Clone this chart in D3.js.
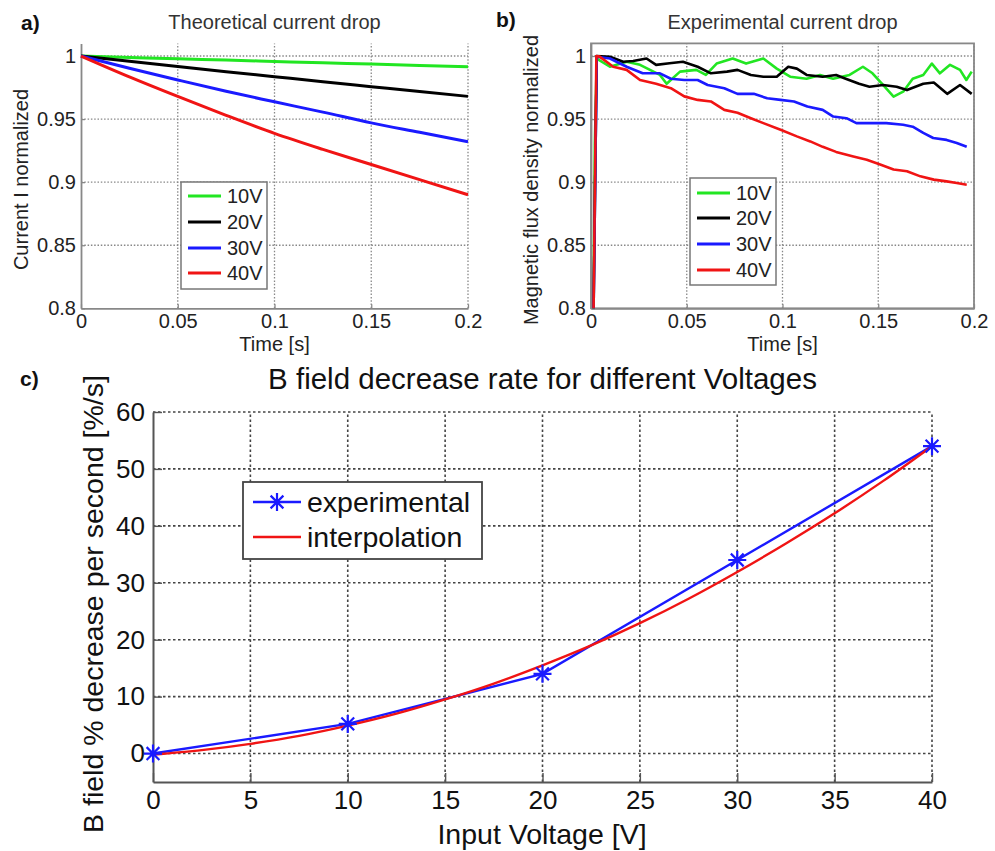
<!DOCTYPE html>
<html>
<head>
<meta charset="utf-8">
<script src="https://cdn.jsdelivr.net/npm/d3@7"></script>
<style>
  body { margin: 0; background: #fff; }
  svg { display: block; }
  text { font-family: "Liberation Sans", Arial, Helvetica, sans-serif; }
</style>
</head>
<body>
<svg id="fig" width="995" height="851"></svg>
<script>
// ---- Series names and colours shared by panels a) and b)
const seriesNames = ["10V", "20V", "30V", "40V"];
const seriesColors = ["#22e622", "#000000", "#1a1aff", "#f01414"];

// ---- a) theoretical normalized current vs time
const theoryTime = [0, 0.025, 0.05, 0.075, 0.1, 0.125, 0.15, 0.175, 0.2];
const theory10V = [1, 0.9989, 0.9978, 0.9968, 0.9957, 0.9946, 0.9936, 0.9925, 0.9915];
const theory20V = [1, 0.9958, 0.9917, 0.9876, 0.9836, 0.9796, 0.9757, 0.9718, 0.968];
const theory30V = [1, 0.9903, 0.981, 0.972, 0.9637, 0.9555, 0.947, 0.9395, 0.932];
const theory40V = [1, 0.9835, 0.968, 0.953, 0.9387, 0.926, 0.914, 0.902, 0.890];

// ---- b) measured normalized flux density, [time s, value]
const measured10V = [[0.0012,0.78],[0.002,0.93],[0.003,0.998],[0.0099,0.9915],[0.0186,0.9955],[0.0256,0.993],[0.036,0.985],[0.0395,0.978],[0.0465,0.9876],[0.055,0.989],[0.060,0.985],[0.0656,0.994],[0.074,0.998],[0.081,0.994],[0.090,0.998],[0.097,0.990],[0.104,0.9836],[0.1126,0.982],[0.1196,0.985],[0.1264,0.982],[0.135,0.985],[0.142,0.9915],[0.147,0.9863],[0.1526,0.977],[0.158,0.9678],[0.163,0.9717],[0.168,0.982],[0.1735,0.985],[0.178,0.994],[0.1822,0.9863],[0.1875,0.993],[0.1927,0.989],[0.196,0.981],[0.1988,0.9876]];
const measured20V = [[0.0012,0.78],[0.003,1.0],[0.0099,0.9994],[0.0168,0.9955],[0.022,0.996],[0.029,0.998],[0.034,0.993],[0.041,0.9942],[0.048,0.9955],[0.0557,0.9915],[0.0626,0.9863],[0.071,0.9876],[0.0765,0.989],[0.0835,0.985],[0.090,0.9836],[0.097,0.9836],[0.103,0.9915],[0.1075,0.990],[0.1126,0.985],[0.121,0.9836],[0.128,0.985],[0.133,0.982],[0.140,0.978],[0.1454,0.9757],[0.1525,0.977],[0.1596,0.9757],[0.165,0.973],[0.1735,0.978],[0.179,0.979],[0.186,0.970],[0.1927,0.977],[0.1988,0.970]];
const measured30V = [[0.0012,0.78],[0.003,0.9994],[0.0099,0.998],[0.0186,0.9915],[0.027,0.9863],[0.036,0.9863],[0.0417,0.982],[0.0487,0.981],[0.0557,0.981],[0.0609,0.977],[0.0696,0.9745],[0.0765,0.970],[0.085,0.970],[0.092,0.9665],[0.099,0.9652],[0.106,0.964],[0.113,0.960],[0.121,0.9573],[0.1265,0.952],[0.1334,0.9507],[0.1386,0.9468],[0.1455,0.9468],[0.1542,0.9468],[0.163,0.9455],[0.168,0.944],[0.1735,0.939],[0.1787,0.935],[0.1857,0.9335],[0.191,0.931],[0.1962,0.928]];
const measured40V = [[0.0012,0.78],[0.0028,1.0],[0.0045,0.9995],[0.0116,0.9915],[0.0186,0.989],[0.0256,0.981],[0.034,0.978],[0.0417,0.9745],[0.0487,0.968],[0.0557,0.9652],[0.0626,0.964],[0.0696,0.9573],[0.0765,0.955],[0.0835,0.9507],[0.090,0.9468],[0.099,0.9415],[0.1075,0.9363],[0.1145,0.9323],[0.121,0.928],[0.128,0.924],[0.137,0.9204],[0.144,0.9178],[0.151,0.914],[0.158,0.910],[0.165,0.9086],[0.172,0.9046],[0.179,0.902],[0.1857,0.9006],[0.191,0.8993],[0.1962,0.898]];

// ---- c) B field decrease rate vs input voltage
const voltages = [0, 10, 20, 30, 40];
const rateMeasured = [0, 5.2, 14, 34, 54];
const interpVoltages = [0, 2.5, 5, 7.5, 10, 12.5, 15, 17.5, 20, 22.5, 25, 27.5, 30, 32.5, 35, 37.5, 40];
const rateInterp = [-0.2, 0.6, 1.7, 3.1, 4.9, 7.0, 9.5, 12.3, 15.5, 19.0, 22.9, 27.2, 31.9, 36.9, 42.2, 47.9, 54.0];

// ---- tick values
const timeTicks = [0, 0.05, 0.1, 0.15, 0.2];
const normTicks = [0.8, 0.85, 0.9, 0.95, 1];
const voltageTicks = [0, 5, 10, 15, 20, 25, 30, 35, 40];
const rateTicks = [0, 10, 20, 30, 40, 50, 60];

const svg = d3.select("#fig");
const plainNum = d => String(+d.toFixed(4));

// Draws dotted grid, axes and tick labels for one axes box
function frame(g, x, y, o) {
  const [x0, x1] = x.range();
  const [yb, yt] = y.range();
  const grid = g.append("g").attr("class", "grid")
    .attr("stroke", o.gridColor).attr("stroke-width", o.gridWidth)
    .attr("stroke-dasharray", o.gridDash);
  grid.selectAll("line.v").data(o.xTicks.filter(d => d !== x.domain()[0]))
    .join("line").attr("class", "v")
    .attr("x1", d => x(d)).attr("x2", d => x(d)).attr("y1", yb).attr("y2", yt);
  grid.selectAll("line.h").data(o.yTicks.filter(d => d !== y.domain()[0]))
    .join("line").attr("class", "h")
    .attr("x1", x0).attr("x2", x1).attr("y1", d => y(d)).attr("y2", d => y(d));

  if (o.box) {
    g.append("rect").attr("x", x0).attr("y", yt).attr("width", x1 - x0).attr("height", yb - yt)
      .attr("fill", "none").attr("stroke", o.axisColor).attr("stroke-width", o.axisWidth);
  }
  const xa = g.append("g").attr("transform", `translate(0,${yb})`)
    .call(d3.axisBottom(x).tickValues(o.xTicks).tickFormat(o.fmt)
      .tickSizeInner(-o.tick).tickSizeOuter(0).tickPadding(o.xPad));
  const ya = g.append("g").attr("transform", `translate(${x0},0)`)
    .call(d3.axisLeft(y).tickValues(o.yTicks).tickFormat(o.fmt)
      .tickSizeInner(-o.tick).tickSizeOuter(0).tickPadding(o.yPad));
  [xa, ya].forEach(a => {
    a.select(".domain").attr("stroke", o.axisColor).attr("stroke-width", o.axisWidth);
    a.selectAll(".tick line").attr("stroke", o.axisColor).attr("stroke-width", o.axisWidth * 0.7);
    a.selectAll(".tick text").attr("font-size", o.fontSize).attr("fill", o.textColor)
      .attr("font-family", '"Liberation Sans", Arial, sans-serif');
  });
}

function label(txt, x, y, size, opts = {}) {
  const t = svg.append("text").attr("x", x).attr("y", y).attr("font-size", size)
    .attr("fill", opts.fill || "#222").attr("text-anchor", opts.anchor || "middle")
    .attr("font-weight", opts.weight || "normal").text(txt);
  if (opts.rotate) t.attr("transform", `rotate(-90,${x},${y})`);
  return t;
}

function smallLegend(lx, ly, w, h, rowY) {
  const g = svg.append("g");
  g.append("rect").attr("x", lx).attr("y", ly).attr("width", w).attr("height", h)
    .attr("fill", "#fff").attr("stroke", "#777").attr("stroke-width", 1.5);
  seriesNames.forEach((n, i) => {
    g.append("line").attr("x1", lx + 7).attr("x2", lx + 40)
      .attr("y1", rowY[i]).attr("y2", rowY[i])
      .attr("stroke", seriesColors[i]).attr("stroke-width", 3);
    g.append("text").attr("x", lx + 46).attr("y", rowY[i]).attr("dy", "0.36em")
      .attr("font-size", 20).attr("fill", "#222").text(n);
  });
}

const smallOpts = {
  xTicks: timeTicks, yTicks: normTicks, fmt: plainNum,
  gridColor: "#888", gridWidth: 1.3, gridDash: "1.5,1.8",
  axisColor: "#888", axisWidth: 1.8, tick: 4, xPad: 6, yPad: 5,
  fontSize: 20, textColor: "#222"
};

// ================= a)
{
  const x = d3.scaleLinear().domain([0, 0.2]).range([81, 468]);
  const y = d3.scaleLinear().domain([0.8, 1.01]).range([308.3, 43.4]);
  const g = svg.append("g");
  frame(g, x, y, Object.assign({}, smallOpts, { box: false }));
  const line = d3.line().x((d, i) => x(theoryTime[i])).y(d => y(d)).curve(d3.curveMonotoneX);
  [theory10V, theory20V, theory30V, theory40V].forEach((s, i) => {
    g.append("path").datum(s).attr("d", line).attr("fill", "none")
      .attr("stroke", seriesColors[i]).attr("stroke-width", 3);
  });
  smallLegend(181, 182, 86, 107, [196, 222, 248, 273]);
  label("Theoretical current drop", 274.5, 29, 20, { fill: "#333" });
  label("Current I normalized", 28, 179.5, 20, { rotate: true });
  label("Time [s]", 274.5, 351, 20);
  label("a)", 21, 30, 21, { anchor: "start", weight: "bold", fill: "#111" });
}

// ================= b)
{
  const x = d3.scaleLinear().domain([0, 0.2]).range([591, 974]);
  const y = d3.scaleLinear().domain([0.8, 1.01]).range([308.3, 43.4]);
  const g = svg.append("g");
  svg.append("defs").append("clipPath").attr("id", "clipB")
    .append("rect").attr("x", 591).attr("y", 43.4).attr("width", 383).attr("height", 264.9);
  frame(g, x, y, Object.assign({}, smallOpts, { box: true }));
  const line = d3.line().x(d => x(d[0])).y(d => y(d[1]));
  const lines = g.append("g").attr("clip-path", "url(#clipB)");
  [measured10V, measured20V, measured30V, measured40V].forEach((s, i) => {
    lines.append("path").datum(s).attr("d", line).attr("fill", "none")
      .attr("stroke", seriesColors[i]).attr("stroke-width", 2.6)
      .attr("stroke-linejoin", "round");
  });
  smallLegend(690, 178, 86, 107, [193, 218, 244, 270]);
  label("Experimental current drop", 782.5, 29, 20, { fill: "#333" });
  label("Magnetic flux density normalized", 538, 180, 20, { rotate: true });
  label("Time [s]", 782.5, 351, 20);
  label("b)", 496, 27, 21, { anchor: "start", weight: "bold", fill: "#111" });
}

// ================= c)
{
  const x = d3.scaleLinear().domain([0, 40]).range([153, 932]);
  const y = d3.scaleLinear().domain([-5, 60]).range([782, 412]);
  const g = svg.append("g");
  frame(g, x, y, {
    xTicks: voltageTicks, yTicks: rateTicks, fmt: d3.format("d"), box: false,
    gridColor: "#444", gridWidth: 1.6, gridDash: "2.5,2.5",
    axisColor: "#555", axisWidth: 2, tick: 9, xPad: 9, yPad: 8,
    fontSize: 26, textColor: "#111"
  });
  const lineM = d3.line().x((d, i) => x(voltages[i])).y(d => y(d));
  const lineI = d3.line().x((d, i) => x(interpVoltages[i])).y(d => y(d)).curve(d3.curveMonotoneX);
  g.append("path").datum(rateMeasured).attr("d", lineM).attr("fill", "none")
    .attr("stroke", "#1a1aff").attr("stroke-width", 2.4);
  g.append("path").datum(rateInterp).attr("d", lineI).attr("fill", "none")
    .attr("stroke", "#f01414").attr("stroke-width", 2.4);
  const star = "M-9,0H9M0,-9V9M-6.4,-6.4L6.4,6.4M-6.4,6.4L6.4,-6.4";
  g.selectAll("path.star").data(rateMeasured).join("path").attr("class", "star")
    .attr("transform", (d, i) => `translate(${x(voltages[i])},${y(d)})`)
    .attr("d", star).attr("stroke", "#1a1aff").attr("stroke-width", 2.2).attr("fill", "none");

  // legend
  const lg = svg.append("g");
  lg.append("rect").attr("x", 243).attr("y", 482).attr("width", 239).attr("height", 77)
    .attr("fill", "#fff").attr("stroke", "#444").attr("stroke-width", 1.8);
  lg.append("line").attr("x1", 253).attr("x2", 301).attr("y1", 502).attr("y2", 502)
    .attr("stroke", "#1a1aff").attr("stroke-width", 2.4);
  lg.append("path").attr("transform", "translate(277,502)").attr("d", star)
    .attr("stroke", "#1a1aff").attr("stroke-width", 2.2);
  lg.append("text").attr("x", 307).attr("y", 502).attr("dy", "0.36em")
    .attr("font-size", 28.5).attr("fill", "#111").text("experimental");
  lg.append("line").attr("x1", 253).attr("x2", 301).attr("y1", 537).attr("y2", 537)
    .attr("stroke", "#f01414").attr("stroke-width", 2.4);
  lg.append("text").attr("x", 307).attr("y", 537).attr("dy", "0.36em")
    .attr("font-size", 28.5).attr("fill", "#111").text("interpolation");

  label("B field decrease rate for different Voltages", 542.5, 389, 29.5, { fill: "#111" });
  label("B field % decrease per second [%/s]", 103, 604, 28.5, { rotate: true, fill: "#111" });
  label("Input Voltage [V]", 542, 844, 28.5, { fill: "#111" });
  label("c)", 20, 386, 21, { anchor: "start", weight: "bold", fill: "#111" });
}
</script>
</body>
</html>
